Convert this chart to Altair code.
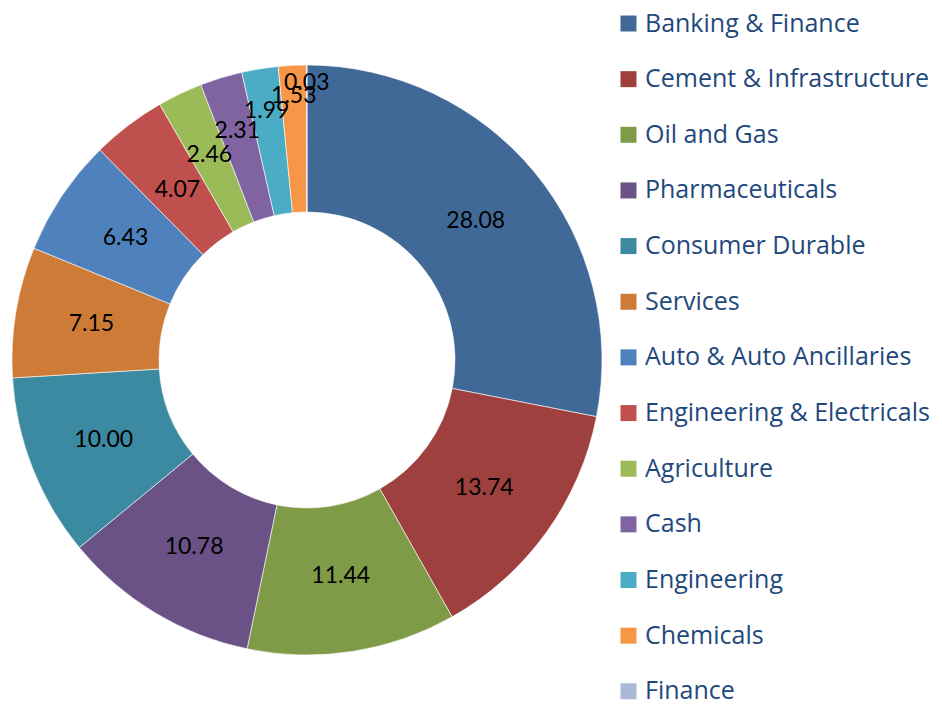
import altair as alt
import pandas as pd

categories = ["Banking & Finance", "Cement & Infrastructure", "Oil and Gas", "Pharmaceuticals",
              "Consumer Durable", "Services", "Auto & Auto Ancillaries", "Engineering & Electricals",
              "Agriculture", "Cash", "Engineering", "Chemicals", "Finance"]
values = [28.08, 13.74, 11.44, 10.78, 10.00, 7.15, 6.43, 4.07, 2.46, 2.31, 1.99, 1.53, 0.03]
labels = ["28.08", "13.74", "11.44", "10.78", "10.00", "7.15", "6.43", "4.07", "2.46", "2.31",
          "1.99", "1.53", "0.03"]
colors = ["#416998", "#9E413E", "#7F9B48", "#6A5186", "#3C8AA1", "#CF7B38", "#4F81BD",
          "#C0504D", "#9BBB59", "#8064A2", "#4BACC6", "#F79646", "#A9B9D7"]

df = pd.DataFrame({"cat": categories, "value": values, "label": labels,
                   "idx": list(range(len(categories)))})

# label placement: ring middle, small slices staggered outward (best-fit like)
R_OUT, R_IN = 295, 148
mid = (R_OUT + R_IN) / 2 - 3
small_rank = (df["value"] < 5).cumsum() - 1
df["label_r"] = [mid if v >= 5 else 214 + 12.7 * k for v, k in zip(df["value"], small_rank)]

CX, CY = 299, 352

arcs = alt.Chart(df).mark_arc(outerRadius=R_OUT, innerRadius=R_IN, stroke="#FFFFFF",
                              strokeWidth=0.6).encode(
    theta=alt.Theta("value:Q", stack=True),
    order=alt.Order("idx:Q", sort="ascending"),
    x=alt.value(CX), y=alt.value(CY),
    color=alt.Color("cat:N", sort=categories,
                    scale=alt.Scale(domain=categories, range=colors),
                    legend=alt.Legend(title=None, orient="none", legendX=608, legendY=3,
                                      symbolType="square", symbolSize=256,
                                      symbolStrokeWidth=0, symbolOpacity=1,
                                      labelFont="Open Sans", labelFontSize=25,
                                      labelColor="#1F497D", labelOffset=4,
                                      labelLimit=400, rowPadding=29.65, padding=0)),
)

text = alt.Chart(df).transform_window(
    cum="sum(value)", sort=[alt.SortField("idx", order="ascending")], frame=[None, 0]
).transform_joinaggregate(
    total="sum(value)"
).transform_calculate(
    ang="(datum.cum - datum.value / 2) / datum.total * 2 * PI"
).mark_text(font="Lato", fontSize=23, color="#000000",
            align="center", baseline="middle").encode(
    x=alt.value(CX), y=alt.value(CY),
    theta=alt.Theta("ang:Q", scale=None),
    radius=alt.Radius("label_r:Q", scale=None),
    text="label:N",
)

chart = alt.layer(arcs, text).resolve_scale(theta="independent").properties(
    width=926, height=699, autosize="none", padding=0
).configure_view(stroke=None)

chart.save("out.html", embed_options={"renderer": "svg", "actions": False})
